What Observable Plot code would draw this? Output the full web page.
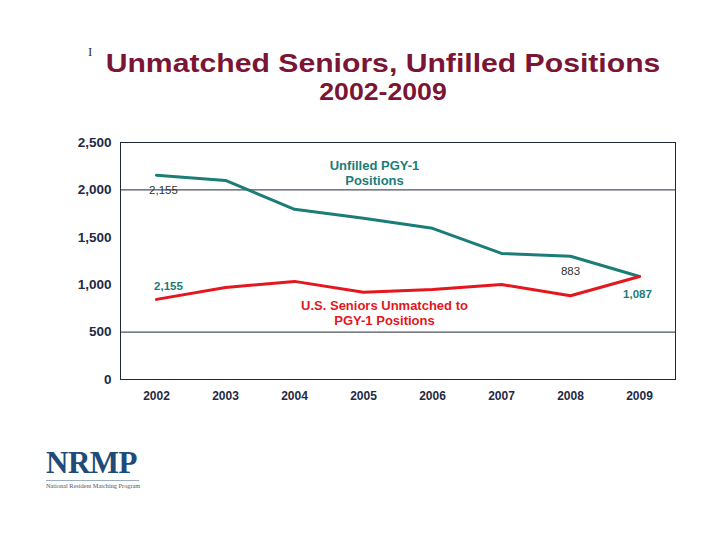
<!DOCTYPE html>
<html>
<head>
<meta charset="utf-8">
<script src="https://cdn.jsdelivr.net/npm/d3@7"></script>
<script src="https://cdn.jsdelivr.net/npm/@observablehq/plot@0.6"></script>
<style>
  body { margin: 0; background: #fff; font-family: "Liberation Sans", Arial, sans-serif; }
  #page { position: relative; width: 720px; height: 540px; overflow: hidden; }
  #cursor { position: absolute; left: 88px; top: 44px; font-family: "Liberation Serif", serif; font-size: 13px; color: #333; }
  .head { position: absolute; left: 0; width: 766px; text-align: center; color: #7b1535; font-weight: bold; transform: scaleX(1.16); transform-origin: 383px 0; }
  #title { top: 48px; font-size: 26px; line-height: 30px; }
  #subtitle { top: 79px; font-size: 23px; line-height: 26px; }
  #chart { position: absolute; left: 0; top: 120px; }
  #logo { position: absolute; left: 46px; top: 447px; }
  #logo .big { font-family: "Liberation Serif", serif; font-weight: bold; font-size: 31px; color: #1f4a7a; letter-spacing: -0.5px; line-height: 32px; }
  #logo .rule { width: 93px; height: 1px; background: #9aaec4; margin-top: 1px; }
  #logo .small { font-family: "Liberation Serif", serif; font-size: 6.3px; color: #556; margin-top: 1px; white-space: nowrap; }
</style>
</head>
<body>
<div id="page">
  <div id="cursor">I</div>
  <div id="title" class="head">Unmatched Seniors, Unfilled Positions</div>
  <div id="subtitle" class="head">2002-2009</div>
  <div id="chart"></div>
  <div id="logo"><div class="big">NRMP</div><div class="rule"></div><div class="small">National Resident Matching Program</div></div>
</div>
<script>
const years = ["2002","2003","2004","2005","2006","2007","2008","2009"];
const unfilledPositions = [2155, 2100, 1795, 1700, 1595, 1330, 1300, 1087];
const unmatchedSeniors = [845, 970, 1035, 920, 950, 1002, 883, 1087];
const yTicks = [0, 500, 1000, 1500, 2000, 2500];
const gridValues = [500, 2000];

const teal = "#1b7d76";
const red = "#e3171d";
const tickColor = "#1f2a44";

const unfilled = years.map((y, i) => ({year: y, value: unfilledPositions[i]}));
const seniors = years.map((y, i) => ({year: y, value: unmatchedSeniors[i]}));

const valueLabels = [
  {year: "2002", value: 2000, text: "2,155", color: "#333", weight: "normal", dx: 7},
  {year: "2002", value: 981, text: "2,155", color: teal, weight: "bold", dx: 12},
  {year: "2008", value: 1139, text: "883", color: "#333", weight: "normal", dx: 0},
  {year: "2009", value: 897, text: "1,087", color: teal, weight: "bold", dx: -2}
];
const seriesLabels = [
  {year: "2005", value: 2185, text: "Unfilled PGY-1\nPositions", color: teal, dx: 11},
  {year: "2005", value: 700, text: "U.S. Seniors Unmatched to\nPGY-1 Positions", color: red, dx: 21}
];

const chart = Plot.plot({
  width: 720,
  height: 300,
  marginLeft: 120,
  marginRight: 45,
  marginTop: 22,
  marginBottom: 41,
  style: {fontFamily: "'Liberation Sans', Arial, sans-serif", background: "transparent"},
  x: {type: "point", domain: years, padding: 0.5, label: null},
  y: {domain: [0, 2500], label: null},
  marks: [
    Plot.ruleY(gridValues, {stroke: "#1f2a38", strokeWidth: 1}),
    Plot.frame({stroke: "#1f2a38", strokeWidth: 1}),
    Plot.axisY({ticks: yTicks, tickSize: 3, tickPadding: 6, tickFormat: d3.format(","), fontSize: 13.5, fontWeight: "bold", fill: tickColor, stroke: null, label: null}),
    Plot.axisX({tickSize: 0, tickPadding: 12, fontSize: 12, fontWeight: "bold", fill: tickColor, label: null}),
    Plot.line(unfilled, {x: "year", y: "value", stroke: teal, strokeWidth: 3}),
    Plot.line(seniors, {x: "year", y: "value", stroke: red, strokeWidth: 3}),
    ...valueLabels.map(d => Plot.text([d], {x: "year", y: "value", text: "text", fill: d.color, fontWeight: d.weight, fontSize: 11.5, dx: d.dx})),
    ...seriesLabels.map(d => Plot.text([d], {x: "year", y: "value", text: "text", fill: d.color, fontWeight: "bold", fontSize: 13, lineHeight: 1.15, dx: d.dx}))
  ]
});
document.getElementById("chart").appendChild(chart);
</script>
</body>
</html>
